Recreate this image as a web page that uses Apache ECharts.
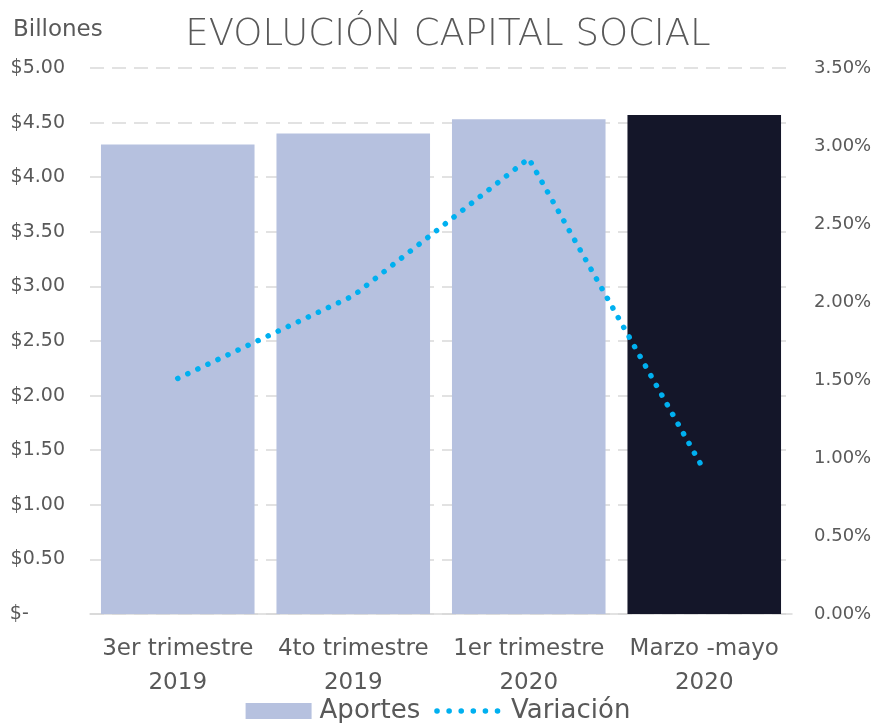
<!DOCTYPE html>
<html><head><meta charset="utf-8">
<script src="https://cdn.jsdelivr.net/npm/echarts@6/dist/echarts.min.js"></script>
<style>html,body{margin:0;padding:0;background:#fff}#c{width:876px;height:723px}</style>
</head><body><div id="c"></div>
<script>
var categories = ['3er trimestre\n2019', '4to trimestre\n2019', '1er trimestre\n2020', 'Marzo -mayo\n2020'];
var aportes = [4.30, 4.40, 4.53, 4.57];
var variacion = [1.51, 2.04, 2.92, 0.92];
var barColors = ['#B6C1DF', '#B6C1DF', '#B6C1DF', '#141629'];

var FONT = '"DejaVu Sans"';
var TXT = '#595959';
var dotted = {color: '#00B0F0', width: 5.5, type: [0.1, 11], cap: 'round'};
var chart = echarts.init(document.getElementById('c'), null, {renderer: 'canvas'});
chart.setOption({
  animation: false,
  title: {
    text: 'EVOLUCIÓN CAPITAL SOCIAL', left: 443, top: 12, textAlign: 'center',
    textStyle: {fontFamily: FONT, fontSize: 37, fontWeight: 200, color: TXT}
  },
  graphic: [{type: 'text', left: 13, top: 19, style: {text: 'Billones', font: '23px ' + FONT, fill: TXT}}],
  legend: {
    top: 693, left: 'center', itemGap: 14,
    textStyle: {fontFamily: FONT, fontSize: 26, color: TXT, padding: [0, 0, 0, 3]},
    data: [
      {name: 'Aportes', icon: 'rect', itemStyle: {color: '#B6C1DF'}},
      {name: 'Variación', itemStyle: {opacity: 0}, lineStyle: {color: '#00B0F0', width: 5.5, type: [0.1, 12], cap: 'round'}}
    ],
    itemWidth: 66, itemHeight: 16
  },
  grid: {left: 90, right: 84, top: 68, bottom: 109},
  xAxis: {
    type: 'category', data: categories,
    axisLine: {lineStyle: {color: '#D9D9D9', width: 1.5}},
    axisTick: {show: false},
    axisLabel: {fontFamily: FONT, fontSize: 23, color: TXT, lineHeight: 34, margin: 18, interval: 0}
  },
  yAxis: [{
    type: 'value', min: 0, max: 5, interval: 0.5,
    axisLine: {show: false}, axisTick: {show: false},
    splitLine: {lineStyle: {color: '#D9D9D9', type: [14, 8], width: 1.5}},
    axisLabel: {fontFamily: FONT, fontSize: 19, color: TXT, margin: 25,
      formatter: function (v) { return v === 0 ? '$-      ' : '$' + v.toFixed(2); }}
  }, {
    type: 'value', min: 0, max: 3.5, interval: 0.5,
    axisLine: {show: false}, axisTick: {show: false}, splitLine: {show: false},
    axisLabel: {fontFamily: FONT, fontSize: 18, color: TXT, margin: 22,
      formatter: function (v) { return v.toFixed(2) + '%'; }}
  }],
  series: [{
    name: 'Aportes', type: 'bar', barCategoryGap: '12.5%',
    data: aportes.map(function (v, i) { return {value: v, itemStyle: {color: barColors[i]}}; })
  }, {
    name: 'Variación', type: 'line', yAxisIndex: 1, data: variacion,
    symbol: 'none', itemStyle: {color: '#00B0F0'},
    lineStyle: dotted
  }]
});
</script></body></html>
